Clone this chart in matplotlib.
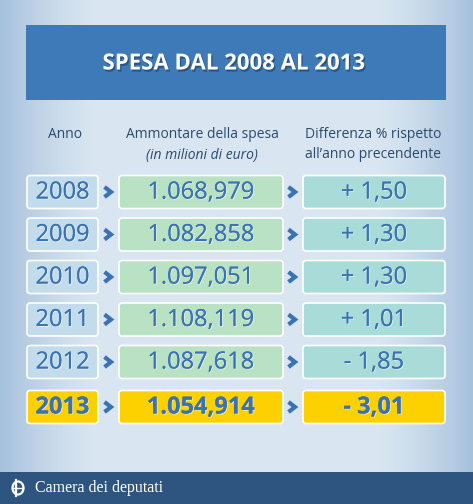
import matplotlib
matplotlib.use("Agg")
import matplotlib.pyplot as plt
import numpy as np
from matplotlib.patches import FancyBboxPatch, Rectangle, Ellipse
import matplotlib.patheffects as pe

# ---- data ----
title = "SPESA DAL 2008 AL 2013"
headers = ["Anno", "Ammontare della spesa", "Differenza % rispetto"]
subheaders = ["", "(in milioni di euro)", "all\u2019anno precendente"]
years = [2008, 2009, 2010, 2011, 2012, 2013]
amounts = [1068.979, 1082.858, 1097.051, 1108.119, 1087.618, 1054.914]
diffs = [1.50, 1.30, 1.30, 1.01, -1.85, -3.01]
footer = "Camera dei deputati"

def fmt_amount(v):
    s = f"{v:,.3f}"
    return s.replace(",", "X").replace(".", ",").replace("X", ".")

def fmt_diff(v):
    sign = "+" if v >= 0 else "-"
    return f"{sign} " + f"{abs(v):.2f}".replace(".", ",")

W, H = 473, 504
fig = plt.figure(figsize=(W / 100, H / 100), dpi=100)
ax = fig.add_axes([0, 0, 1, 1])
ax.set_xlim(0, W)
ax.set_ylim(H, 0)
ax.axis("off")

# background gradient
xs = np.linspace(0, 1, 400)
center = np.array([0xd9, 0xe6, 0xf1]) / 255
edge = np.array([0xa6, 0xc1, 0xdd]) / 255
t = np.clip(np.abs(xs - 0.5) / 0.5, 0, 1)
w = np.clip((t - 0.6) / 0.4, 0, 1) ** 1.3
grad = center[None, :] * (1 - w[:, None]) + edge[None, :] * w[:, None]
ax.imshow(grad[None, :, :], extent=[0, W, 472, 0], aspect="auto", zorder=0)

font = "Open Sans"
txt_blue = "#3a72b3"
hdr_col = "#2c4a6c"

# title box
ax.add_patch(Rectangle((26, 25), 420, 75, facecolor="#3e7ab8", edgecolor="none", zorder=1))
ax.text(234, 64, title, ha="center", va="center", color="white", fontsize=16,
        fontweight="bold", family=font, zorder=3,
        path_effects=[pe.withSimplePatchShadow(offset=(1, -1.5), shadow_rgbFace="#1d3d60", alpha=0.6)])

# headers
col_x = [65, 202, 373]
for x, h, s in zip(col_x, headers, subheaders):
    ax.text(x, 135, h, ha="center", va="center", color=hdr_col, fontsize=10, family=font)
    if s:
        ax.text(x, 155, s, ha="center", va="center", color=hdr_col, fontsize=10, family=font,
                style="italic" if "milioni" in s else "normal")

# rows
row_y0 = 192
row_step = 42.5
box_h = 33
cols = [(27, 71), (119, 164), (303, 142)]
fills = ["#c3dcec", "#b9e1c3", "#a9dcd9"]
highlight = "#fdd000"
arrows_x = [108, 292]

for i, (yr, am, df) in enumerate(zip(years, amounts, diffs)):
    cy = row_y0 + i * row_step if i < 5 else row_y0 + 4 * row_step + 45
    last = i == len(years) - 1
    texts = [str(yr), fmt_amount(am), fmt_diff(df)]
    for (bx, bw), fc, tx in zip(cols, fills, texts):
        face = highlight if last else fc
        ax.add_patch(FancyBboxPatch((bx, cy - box_h / 2), bw, box_h,
                                    boxstyle="round,pad=0,rounding_size=3",
                                    facecolor=face, edgecolor="white", linewidth=1.2, zorder=2))
        ax.text(bx + bw / 2, cy + 0.5, tx, ha="center", va="center", color=txt_blue,
                fontsize=17, family=font, fontweight="bold" if last else "normal", zorder=3,
                path_effects=[pe.withSimplePatchShadow(offset=(0.7, -0.7), shadow_rgbFace="white", alpha=0.5),
                              pe.Normal()])
    for axx in arrows_x:
        ax.plot([axx - 3.5, axx + 3, axx - 3.5], [cy - 5, cy, cy + 5], color="#3a72b3",
                linewidth=3, solid_capstyle="butt", solid_joinstyle="miter", zorder=3)

# footer
ax.add_patch(Rectangle((0, 472), W, 32, facecolor="#2d557f", edgecolor="none", zorder=1))
ax.text(35, 488, footer, ha="left", va="center", color="white", fontsize=11.5,
        family="Liberation Serif", zorder=3)
# simple logo
ax.add_patch(Ellipse((18, 488), 11, 13, facecolor="none", edgecolor="white", linewidth=1.6, zorder=3))
ax.plot([16, 16], [480, 496], color="white", linewidth=1.6, zorder=3)
ax.plot([13, 23], [488, 488], color="white", linewidth=1.0, zorder=3)

fig.savefig("out.png", dpi=100)
